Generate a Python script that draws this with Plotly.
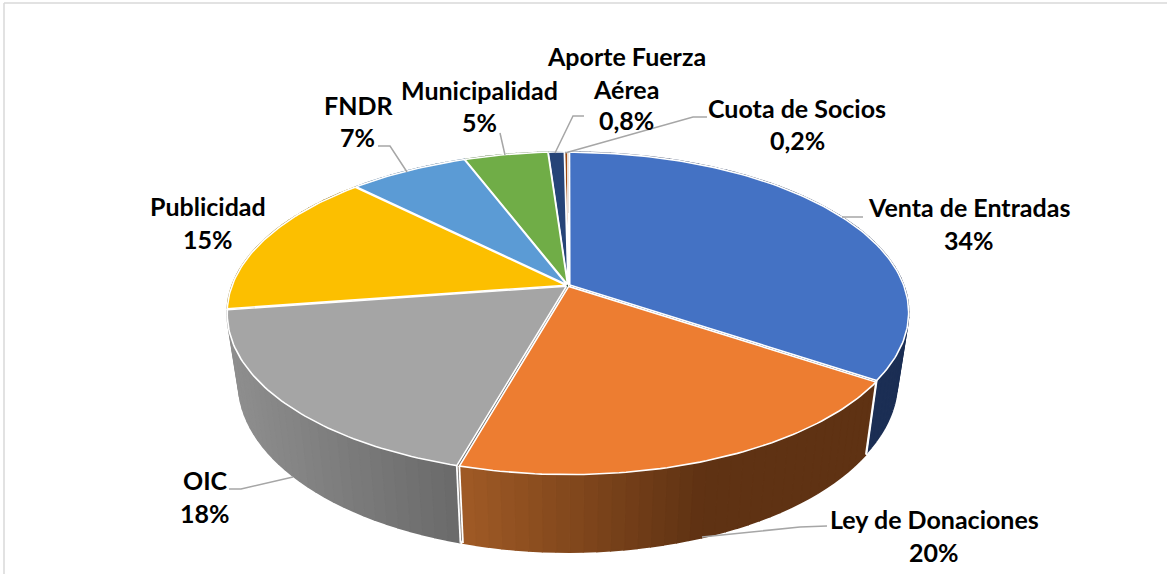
import math
import plotly.graph_objects as go

# ---- data ----
categories = ["Venta de Entradas", "Ley de Donaciones", "OIC", "Publicidad",
              "FNDR", "Municipalidad", "Aporte Fuerza Aérea", "Cuota de Socios"]
values = [34.3, 20.0, 18.2, 14.8, 6.7, 4.7, 0.9, 0.2]
label_lines = [["Venta de Entradas", "34%"], ["Ley de Donaciones", "20%"], ["OIC", "18%"],
               ["Publicidad", "15%"], ["FNDR", "7%"], ["Municipalidad", "5%"],
               ["Aporte Fuerza", "Aérea", "0,8%"], ["Cuota de Socios", "0,2%"]]

# ---- styles / layout ----
top_colors = ["#4472c4", "#ed7d31", "#a5a5a5", "#fcbf00", "#5b9bd5", "#70ad47", "#264478", "#9e480e"]
wall_left = ["#1b2e54", "#a05a25", "#8e8e8e", "#8a6800", "#355d85", "#44692b", "#16294a", "#5f2b08"]
wall_right = ["#1b2e54", "#5f3213", "#6a6a6a", "#8a6800", "#355d85", "#44692b", "#16294a", "#5f2b08"]
grad_x = [(0, 1), (462, 700), (236, 456), (0, 1), (0, 1), (0, 1), (0, 1), (0, 1)]
label_pos = [[(969, 207), (969, 240)], [(934, 519), (934, 552)], [(205, 480), (205, 513)],
             [(208, 206), (208, 239)], [(358, 105), (357, 137)], [(479, 90), (479, 122)],
             [(626, 56), (626, 89), (626, 120)], [(797, 108), (797, 140)]]
leaders = [[(842, 217), (863, 217)], [(702, 537), (800, 527), (827, 526)],
           [(293, 477), (241, 489), (229, 489)], None,
           [(407, 172), (390, 146), (378, 146)], [(505, 155), (500, 133)],
           [(555, 153), (573, 116), (584, 116)], [(565, 153), (693, 117), (707, 117)]]
CX = 568
TOP = dict(A=155.7, B=334, y0=285.5)
BOT = dict(A=164, B=323, y0=353)
K = 0.171
EXPLODE = 0.006
FONT = dict(family="Lato", size=25, color="#000000")


def project(theta, r, off, lvl):
    u = r * math.sin(theta) + off[0]
    v = r * math.cos(theta) + off[1]
    d = 1 + K * v
    return CX + lvl["B"] * u / d, lvl["y0"] - lvl["A"] * v / d


def lerp_color(c1, c2, t):
    t = max(0, min(1, t))
    a = [int(c1[i:i + 2], 16) for i in (1, 3, 5)]
    b = [int(c2[i:i + 2], 16) for i in (1, 3, 5)]
    return "rgb(%d,%d,%d)" % tuple(round(p + (q - p) * t) for p, q in zip(a, b))


def poly(points, fill, line, width):
    return go.Scatter(x=[p[0] for p in points], y=[p[1] for p in points], mode="lines",
                      fill="toself", fillcolor=fill, line=dict(color=line, width=width),
                      hoverinfo="skip", showlegend=False)


def seg(points, color, width):
    return go.Scatter(x=[p[0] for p in points], y=[p[1] for p in points], mode="lines",
                      line=dict(color=color, width=width), hoverinfo="skip", showlegend=False)


total = sum(values)
slices = []
acc = 0
for i, v in enumerate(values):
    a0 = acc / total * 2 * math.pi
    acc += v
    a1 = acc / total * 2 * math.pi
    slices.append((i, a0, a1))


def front_distance(s):
    mid = (s[1] + s[2]) / 2
    return -math.cos(mid)


fig = go.Figure()
for i, a0, a1 in sorted(slices, key=front_distance):
    mid = (a0 + a1) / 2
    off = (EXPLODE * math.sin(mid), EXPLODE * math.cos(mid))
    c_top = project(0, 0, off, TOP)
    c_bot = project(0, 0, off, BOT)
    # cut faces
    for a in (a0, a1):
        fig.add_trace(poly([c_top, project(a, 1, off, TOP), project(a, 1, off, BOT), c_bot],
                           wall_right[i] if a == a0 else wall_left[i], "rgba(0,0,0,0)", 0))
    # curved wall as strips coloured by screen position, overlapping to hide seams
    n = max(1, int(math.degrees(a1 - a0) / 2.0))
    for s in range(n):
        t0 = a0 + (a1 - a0) * s / n
        t1 = a0 + (a1 - a0) * (s + 1) / n
        pts = [project(t0, 1, off, TOP), project(t1, 1, off, TOP),
               project(t1, 1, off, BOT), project(t0, 1, off, BOT)]
        xm = sum(p[0] for p in pts) / 4
        xl, xr = grad_x[i]
        col = lerp_color(wall_left[i], wall_right[i], (xm - xl) / (xr - xl))
        fig.add_trace(poly(pts, col, col, 1.6))
    # white edges of the wall only where they face the viewer
    for a in (a0, a1):
        if abs(a - math.pi) < math.radians(70):
            fig.add_trace(seg([project(a, 1, off, TOP), project(a, 1, off, BOT)], "#ffffff", 1.8))
    # top face
    m = max(2, int(math.degrees(a1 - a0)))
    rim = [project(a0 + (a1 - a0) * j / m, 1, off, TOP) for j in range(m + 1)]
    fig.add_trace(poly([c_top] + rim + [c_top], top_colors[i], "#ffffff", 1.6))

for path in leaders:
    if path:
        fig.add_trace(seg(path, "#a6a6a6", 1.5))

annotations = []
for lines, positions in zip(label_lines, label_pos):
    for text, (x, y) in zip(lines, positions):
        annotations.append(dict(x=x, y=y, xref="x", yref="y", text="<b>%s</b>" % text,
                                showarrow=False, font=FONT, xanchor="center", yanchor="middle"))

frame = [dict(type="line", xref="x", yref="y", x0=4, y0=574, x1=4, y1=3,
              line=dict(color="#d9d9d9", width=1.5)),
         dict(type="line", xref="x", yref="y", x0=4, y0=3, x1=1167, y1=3,
              line=dict(color="#d9d9d9", width=1.5))]

fig.update_layout(width=1167, height=574, margin=dict(l=0, r=0, t=0, b=0),
                  paper_bgcolor="#ffffff", plot_bgcolor="#ffffff", showlegend=False,
                  xaxis=dict(range=[0, 1167], visible=False, fixedrange=True),
                  yaxis=dict(range=[574, 0], visible=False, fixedrange=True),
                  annotations=annotations, shapes=frame)
fig.write_html("out.html", config={"displayModeBar": False},
               post_script="document.body.style.margin='0';document.documentElement.style.overflow='hidden';")
